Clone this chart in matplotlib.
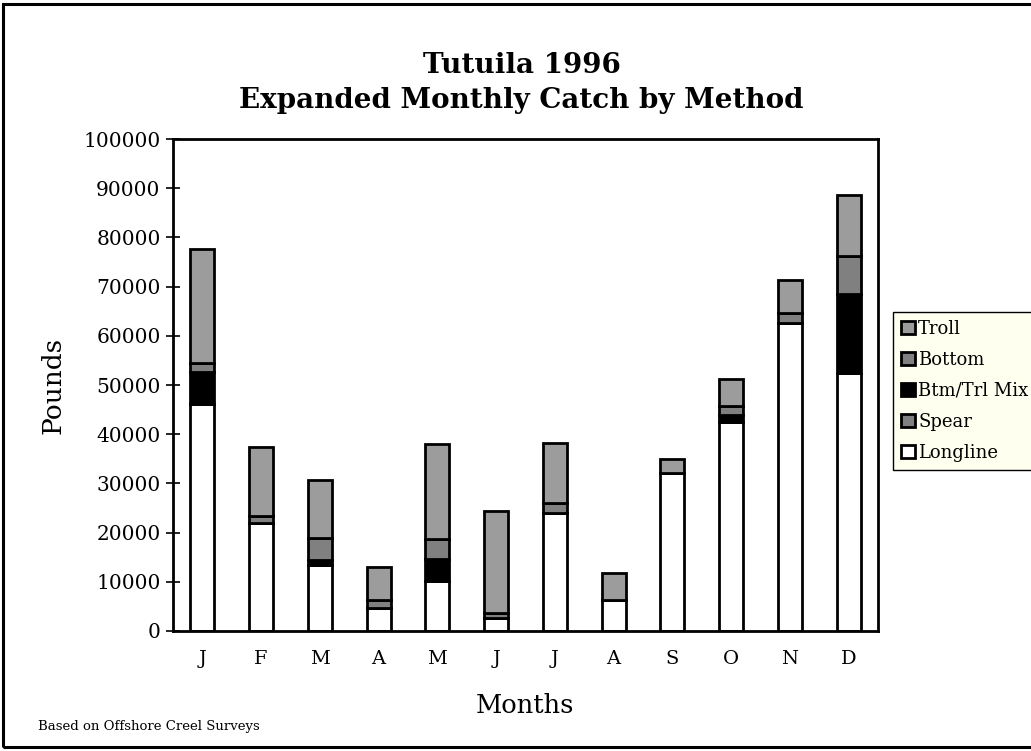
import numpy as np
import matplotlib
matplotlib.use("Agg")
import matplotlib.pyplot as plt
from matplotlib.patches import Rectangle

months = ["J", "F", "M", "A", "M", "J", "J", "A", "S", "O", "N", "D"]
longline = [46100, 22000, 13500, 4600, 10200, 2700, 23900, 6200, 32200, 42500, 62700, 52500]
spear = [0, 0, 0, 0, 0, 0, 0, 0, 0, 0, 0, 0]
btm_trl_mix = [6600, 0, 900, 0, 4400, 0, 0, 0, 0, 1400, 0, 15900]
bottom = [1800, 1400, 4600, 1800, 4100, 1000, 2200, 0, 0, 1800, 2000, 7800]
troll = [23100, 14000, 11700, 6700, 19300, 20700, 12200, 5500, 2800, 5500, 6600, 12400]

plt.rcParams["font.family"] = ["DejaVu Serif"]

fig = plt.figure(figsize=(10.31, 7.51), dpi=100)
ax = fig.add_axes([0.1678, 0.1598, 0.6838, 0.6551])

x = np.arange(len(months))
w = 0.41
series = [
    ("Longline", longline, "white"),
    ("Spear", spear, "#808080"),
    ("Btm/Trl Mix", btm_trl_mix, "black"),
    ("Bottom", bottom, "#808080"),
    ("Troll", troll, "#9c9c9c"),
]
base = np.zeros(len(months))
handles = []
for name, vals, col in series:
    vals = np.array(vals, dtype=float)
    b = ax.bar(x, vals, w, bottom=base, color=col, edgecolor="black", linewidth=2, label=name)
    handles.append(b)
    base += vals

ax.set_xlim(-0.5, 11.5)
ax.set_ylim(0, 100000)
ax.set_yticks(np.arange(0, 100001, 10000))
ax.set_xticks(x)
ax.set_xticklabels(months, fontsize=14)
ax.tick_params(axis="y", labelsize=14.5, direction="inout", length=10, width=1.2, pad=4)
ax.tick_params(axis="x", length=0, pad=14)
for s in ax.spines.values():
    s.set_linewidth(2)

fig.text(0.506, 0.913, "Tutuila 1996", ha="center", va="center", fontsize=20, fontweight="bold")
fig.text(0.506, 0.866, "Expanded Monthly Catch by Method", ha="center", va="center", fontsize=20, fontweight="bold")
fig.text(0.051, 0.487, "Pounds", rotation=90, ha="center", va="center", fontsize=19)
fig.text(0.509, 0.06, "Months", ha="center", va="center", fontsize=18.5)
fig.text(0.037, 0.032, "Based on Offshore Creel Surveys", ha="left", va="center", fontsize=9.5)

# outer frame
fig.patches.append(Rectangle((0.003, 0.005), 1.1, 0.99, transform=fig.transFigure,
                             fill=False, edgecolor="black", linewidth=2.2))

leg = fig.legend(handles[::-1], [h.get_label() for h in handles[::-1]],
                 loc="upper left", bbox_to_anchor=(0.866, 0.585), fontsize=13,
                 frameon=True, fancybox=False, facecolor="#fffff0", edgecolor="black",
                 handlelength=0.75, handleheight=0.75, handletextpad=0.2,
                 labelspacing=0.72, borderpad=0.45, borderaxespad=0)
leg.get_frame().set_linewidth(1)
leg.get_frame().set_alpha(1)

fig.savefig("out.png", dpi=100)
